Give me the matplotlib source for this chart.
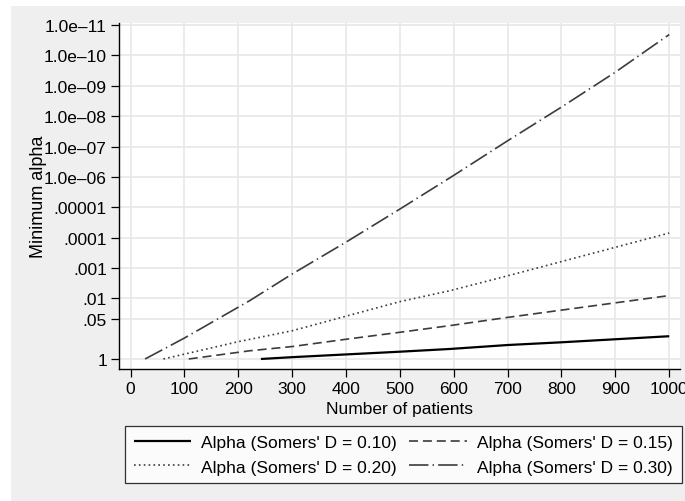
import numpy as np
import matplotlib
matplotlib.use("Agg")
import matplotlib.pyplot as plt
from matplotlib.patches import Rectangle

plt.rcParams['font.family'] = ['Liberation Sans', 'DejaVu Sans']
plt.rcParams['lines.scale_dashes'] = False

# values (log10 of minimum alpha)
n_d10 = [242, 300, 400, 500, 593, 700, 800, 900, 1000]
lg_d10 = [0.0, -0.06, -0.15, -0.24, -0.33, -0.46, -0.55, -0.65, -0.75]

n_d15 = [108, 221, 300, 400, 500, 593, 700, 800, 900, 1000]
lg_d15 = [0.0, -0.27, -0.41, -0.65, -0.88, -1.10, -1.37, -1.61, -1.85, -2.09]

n_d20 = [61, 100, 200, 300, 400, 500, 593, 700, 800, 900, 1000]
lg_d20 = [0.0, -0.16, -0.57, -0.93, -1.41, -1.89, -2.25, -2.74, -3.21, -3.68, -4.15]

n_d30 = [27, 100, 221, 300, 400, 500, 600, 700, 800, 900, 1000]
lg_d30 = [0.0, -0.69, -1.92, -2.80, -3.85, -4.94, -6.05, -7.19, -8.30, -9.45, -10.69]

y_ticks = [1, .05, .01, .001, .0001, .00001, 1e-6, 1e-7, 1e-8, 1e-9, 1e-10, 1e-11]
y_labels = ['1', '.05', '.01', '.001', '.0001', '.00001',
            '1.0e\u201306', '1.0e\u201307', '1.0e\u201308', '1.0e\u201309',
            '1.0e\u201310', '1.0e\u201311']
x_ticks = list(range(0, 1001, 100))

W, H = 685, 502
fs = 12.5
fig = plt.figure(figsize=(W / 100, H / 100), dpi=100)
fig.patch.set_facecolor('white')
fig.patches.append(Rectangle((11 / W, 0), 1, 1 - 7 / H, transform=fig.transFigure,
                             facecolor='#efefef', edgecolor='none', zorder=-10))

ax = fig.add_axes([119.5 / W, 1 - 370 / H, (680 - 119.5) / W, (370 - 24) / H])
ax.set_facecolor('white')

dark = '#3c3c3c'
h10, = ax.plot(n_d10, 10 ** np.array(lg_d10), color='black', lw=1.6, solid_capstyle='butt',
               label="Alpha (Somers' D = 0.10)")
h15, = ax.plot(n_d15, 10 ** np.array(lg_d15), color=dark, lw=1.2, dashes=(6.5, 3.5),
               label="Alpha (Somers' D = 0.15)")
h20, = ax.plot(n_d20, 10 ** np.array(lg_d20), color=dark, lw=1.2, dashes=(1.2, 2.3),
               label="Alpha (Somers' D = 0.20)")
h30, = ax.plot(n_d30, 10 ** np.array(lg_d30), color=dark, lw=1.2, dashes=(14, 3, 1, 3),
               label="Alpha (Somers' D = 0.30)")

ax.set_yscale('log')
ax.set_ylim(10 ** 0.33, 10 ** -11.07)
ax.set_xlim(-20.5, 1020)
ax.set_yticks(y_ticks)
ax.set_yticklabels(y_labels)
ax.minorticks_off()
ax.set_xticks(x_ticks)
ax.grid(True, color='#e6e6e6', lw=1.1)
ax.set_axisbelow(True)
for s in ['top', 'right']:
    ax.spines[s].set_visible(False)
for s in ['left', 'bottom']:
    ax.spines[s].set_linewidth(1.0)
ax.tick_params(direction='out', length=6, width=0.9, labelsize=fs, pad=3)

ax.set_xlabel('Number of patients', fontsize=fs, labelpad=3)
ax.set_ylabel('Minimum alpha', fontsize=13, labelpad=-2.5)

# row-major order like the original legend
handles = [h10, h20, h15, h30]
leg = fig.legend(handles=handles, labels=[h.get_label() for h in handles],
                 loc='upper left', bbox_to_anchor=(125 / W, 1 - 427 / H), ncol=2,
                 fontsize=fs, frameon=True, fancybox=False, handlelength=3.3,
                 handletextpad=0.6, columnspacing=0.7, borderpad=0.5,
                 labelspacing=0.55, borderaxespad=0)
leg.get_frame().set_edgecolor('black')
leg.get_frame().set_linewidth(0.9)

fig.savefig('out.png', dpi=100, facecolor=fig.get_facecolor())
